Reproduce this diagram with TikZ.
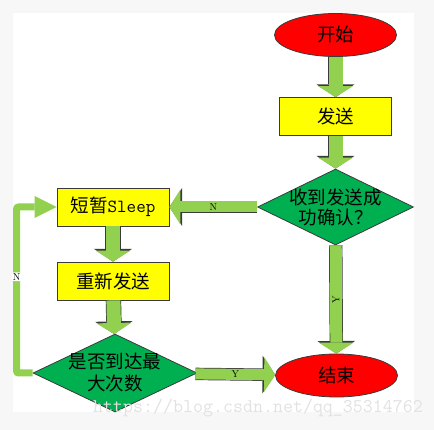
\documentclass[tikz,border=0pt]{standalone}
\usepackage{fontspec}
\newfontfamily\cjk{Noto Sans CJK SC}
\usetikzlibrary{positioning, arrows.meta, shapes.geometric}

\definecolor{bggray}{HTML}{F7F7F7}
\definecolor{markgray}{HTML}{E2E2E2}
\definecolor{edgegray}{HTML}{3A3A3A}
\definecolor{termred}{HTML}{FF0000}
\definecolor{boxyellow}{HTML}{FFFF00}
\definecolor{checkgreen}{HTML}{00B050}
\definecolor{arrowgreen}{HTML}{92D050}

\begin{document}
\begin{tikzpicture}
    [
        x=1pt, y=-1pt, on grid,
        cjk_text/.style={font=\cjk\fontsize{18.5}{#1}\selectfont},
        cjk_text/.default=20,
        end_node/.style={ellipse, draw=edgegray, fill=termred, line width=0.8pt, minimum width=122pt, minimum height=43pt, inner sep=0pt, cjk_text},
        box_node/.style={rectangle, draw=edgegray, fill=boxyellow, line width=0.8pt, minimum width=112pt, minimum height=38pt, inner sep=0pt, cjk_text},
        check_node/.style={diamond, draw=edgegray, fill=checkgreen, line width=0.8pt, inner sep=0pt},
        flow_arrow/.style={draw=arrowgreen, line width=#1, -{Triangle[length=11pt 0 0, width=35pt 0 0, line width=0pt 0 0]},
            preaction={draw=edgegray, line width=#1+1.4pt, -{Triangle[length=12.6pt 0 0, width=37.6pt 0 0, line width=0pt 0 0]}}},
        loop_arrow/.style={draw=arrowgreen, line width=7pt, rounded corners=2pt, -{Triangle[length=22pt 0 0, width=22pt 0 0, line width=0pt 0 0]}},
        yn_label/.style={font=\fontsize{10}{10}\selectfont, text=black, inner sep=1pt},
    ]
        \useasboundingbox (0,0) rectangle (434,430) ;
        \fill[bggray] (0,0) rectangle (434,430) ;
        \fill[white] (13,13) rectangle (414,412) ;
        \node[end_node] (start) at (335.5,35) {开始} ;
        \node[box_node] (send) [below = 81.5pt of start] {发送} ;
        \node[check_node, minimum width=156pt, minimum height=76pt, label={[cjk_text, align=center]center:收到发送成\\功确认？}] (check) [below = 90.5pt of send] {} ;
        \node[end_node] (finish) [below = 168.5pt of check, xshift=1pt] {结束} ;
        \node[box_node] (sleep) [left = 222.5pt of check] {短暂{\ttfamily Sleep}} ;
        \node[box_node] (resend) [below = 74pt of sleep] {重新发送} ;
        \node[check_node, minimum width=164pt, minimum height=78pt, label={[cjk_text=22, align=center]center:是否到达最\\大次数}] (maxtry) [below = 92pt of resend, xshift=2pt] {} ;
        \draw[flow_arrow=14pt] (start) -- (send) ;
        \draw[flow_arrow=14pt] (send) -- (check) ;
        \draw[flow_arrow=11pt] (check) -- node[yn_label] (n_mid) {N} (sleep) ;
        \draw[flow_arrow=14pt] (sleep) -- (resend) ;
        \draw[flow_arrow=14pt] (resend) -- (maxtry) ;
        \draw[flow_arrow=12pt] (check) -- node[yn_label, rotate=90] (y_mid) {Y} (finish) ;
        \draw[flow_arrow=11pt] (maxtry) -- node[yn_label] (y_right) {Y} (finish) ;
        \draw[loop_arrow] (maxtry.west) -- ++(-16,0) |- node[yn_label, pos=0.29, fill=white] (n_left) {N} (sleep.west) ;
        \node[anchor=west, text=markgray, font=\ttfamily\fontsize{19.4}{20}\selectfont, inner sep=0pt] (mark) at (93,408) {https://blog.csdn.net/qq\_35314762} ;
    \end{tikzpicture}
\end{document}
